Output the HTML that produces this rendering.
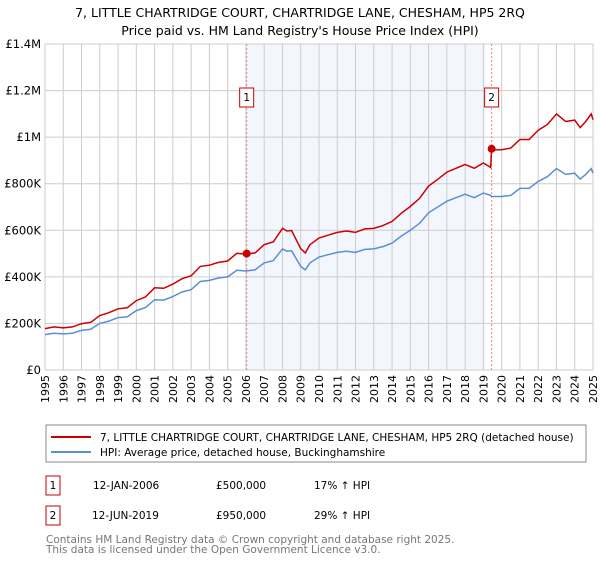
<!DOCTYPE html>
<html><head><meta charset="utf-8"><style>
body{margin:0;background:#fff;width:600px;height:560px;overflow:hidden;font-family:"Liberation Sans","DejaVu Sans",sans-serif}
svg text{font-family:"DejaVu Sans","Liberation Sans",sans-serif}
</style></head><body>
<svg id="chart" width="600" height="560" xmlns="http://www.w3.org/2000/svg">
<text x="300" y="17" text-anchor="middle" font-size="12.5" fill="#000">7, LITTLE CHARTRIDGE COURT, CHARTRIDGE LANE, CHESHAM, HP5 2RQ</text>
<text x="300" y="35" text-anchor="middle" font-size="12.5" fill="#000">Price paid vs. HM Land Registry's House Price Index (HPI)</text>
<g id="plot"></g>
<rect x="46" y="425" width="540" height="37" fill="#fff" stroke="#888"/>
<line x1="51" y1="437" x2="91" y2="437" stroke="#cc0000" stroke-width="2"/>
<text x="100" y="441" font-size="10.5">7, LITTLE CHARTRIDGE COURT, CHARTRIDGE LANE, CHESHAM, HP5 2RQ (detached house)</text>
<line x1="51" y1="452" x2="91" y2="452" stroke="#5b8fd4" stroke-width="2"/>
<text x="100" y="456" font-size="10.5">HPI: Average price, detached house, Buckinghamshire</text>
<rect x="46" y="476" width="14" height="19" fill="#fff" stroke="#cc0000"/>
<text x="53" y="489" text-anchor="middle" font-size="10.5">1</text>
<text x="93" y="489" font-size="10.5">12-JAN-2006</text>
<text x="216" y="489" font-size="10.5">£500,000</text>
<text x="314" y="489" font-size="10.5">17% ↑ HPI</text>
<rect x="46" y="506" width="14" height="19" fill="#fff" stroke="#cc0000"/>
<text x="53" y="519" text-anchor="middle" font-size="10.5">2</text>
<text x="92" y="519" font-size="10.5">12-JUN-2019</text>
<text x="216" y="519" font-size="10.5">£950,000</text>
<text x="314" y="519" font-size="10.5">29% ↑ HPI</text>
<text x="46" y="543" font-size="10.5" fill="#777">Contains HM Land Registry data © Crown copyright and database right 2025.</text>
<text x="46" y="553" font-size="10.5" fill="#777">This data is licensed under the Open Government Licence v3.0.</text>
</svg>
<script>
const dates=[1995.0,1995.5,1996.0,1996.5,1997.0,1997.5,1998.0,1998.5,1999.0,1999.5,2000.0,2000.5,2001.0,2001.5,2002.0,2002.5,2003.0,2003.5,2004.0,2004.5,2005.0,2005.5,2006.0,2006.5,2007.0,2007.5,2008.0,2008.25,2008.5,2009.0,2009.25,2009.5,2010.0,2010.5,2011.0,2011.5,2012.0,2012.5,2013.0,2013.5,2014.0,2014.5,2015.0,2015.5,2016.0,2016.5,2017.0,2017.5,2018.0,2018.5,2019.0,2019.4,2019.45,2019.5,2020.0,2020.5,2021.0,2021.5,2022.0,2022.5,2023.0,2023.5,2024.0,2024.3,2024.6,2024.9,2025.0];
const hpiValues=[152,158,155,158,170,175,200,210,225,228,255,268,302,300,315,335,345,380,385,395,400,428,425,430,460,470,520,510,512,445,430,460,485,495,505,510,505,518,520,530,545,575,600,630,675,700,725,740,755,740,760,750,745,745,745,750,780,780,810,830,865,840,845,820,840,865,845];
const priceValues=[178,185,181,185,199,205,234,246,263,267,298,314,353,351,369,392,404,445,450,462,468,501,497,503,538,550,608,597,599,521,503,538,567,579,591,597,591,606,608,620,638,673,702,737,790,819,850,866,883,866,889,870,950,945,946,953,990,990,1030,1054,1100,1067,1073,1041,1067,1100,1075];
const saleDates=[2006.04,2019.45];
const salePrices=[500,950];
const saleLabels=["1","2"];
const yTicks=[0,200,400,600,800,1000,1200,1400];
const yTickLabels=["£0","£200K","£400K","£600K","£800K","£1M","£1.2M","£1.4M"];
const xYears=[1995,1996,1997,1998,1999,2000,2001,2002,2003,2004,2005,2006,2007,2008,2009,2010,2011,2012,2013,2014,2015,2016,2017,2018,2019,2020,2021,2022,2023,2024,2025];
const shadeRange=[2006.04,2019.1];

const X0=45,X1=593,Y0=370,Y1=44;
const xs=y=>X0+(y-1995)/30*(X1-X0);
const ys=v=>Y0-v/1400*(Y0-Y1);
const NS="http://www.w3.org/2000/svg";
const g=document.getElementById('plot');
function mk(t,a){const e=document.createElementNS(NS,t);for(const k in a)e.setAttribute(k,a[k]);g.appendChild(e);return e;}

let e=mk('rect',{x:X0,y:Y1,width:X1-X0,height:Y0-Y1,fill:'#fff'});


e=mk('rect',{x:xs(shadeRange[0]),y:Y1,width:xs(shadeRange[1])-xs(shadeRange[0]),height:Y0-Y1,fill:'#eef3fc',opacity:0.7});


xYears.forEach(yr=>{
  const l=mk('line',{x1:xs(yr),x2:xs(yr),y1:Y1,y2:Y0,stroke:'#ccc','stroke-width':1});
  
  
  const t=mk('text',{x:0,y:0,'font-size':11,'text-anchor':'end',transform:`translate(${xs(yr)+4},${Y0+5}) rotate(-90)`});
  t.textContent=yr;
  
  
});
yTicks.forEach((v,i)=>{
  const l=mk('line',{x1:X0,x2:X1,y1:ys(v),y2:ys(v),stroke:'#ccc','stroke-width':1});
  
  
  const t=mk('text',{x:X0-4,y:ys(v)+4,'font-size':11.5,'text-anchor':'end'});
  t.textContent=yTickLabels[i];
  
  
});
saleDates.forEach((d,i)=>{
  const l=mk('line',{x1:xs(d),x2:xs(d),y1:Y1,y2:Y0,stroke:'#f08080','stroke-dasharray':'2,2','stroke-width':1});
  
  
  const r=mk('rect',{x:xs(d)-7,y:88,width:14,height:19,fill:'#fff',stroke:'#cc0000'});
  
  
  const t=mk('text',{x:xs(d),y:101,'font-size':10.5,'text-anchor':'middle'});
  t.textContent=saleLabels[i];
  
  
});
const pts=a=>a.map((v,i)=>xs(dates[i]).toFixed(1)+','+ys(v).toFixed(1)).join(' ');
e=mk('polyline',{points:pts(hpiValues),fill:'none',stroke:'#5b8fd4','stroke-width':1.5});


e=mk('polyline',{points:pts(priceValues),fill:'none',stroke:'#cc0000','stroke-width':1.5});


saleDates.forEach((d,i)=>{
  const c=mk('circle',{cx:xs(d),cy:ys(salePrices[i]),r:4,fill:'#cc0000'});
  
  
});
</script>
</body></html>
